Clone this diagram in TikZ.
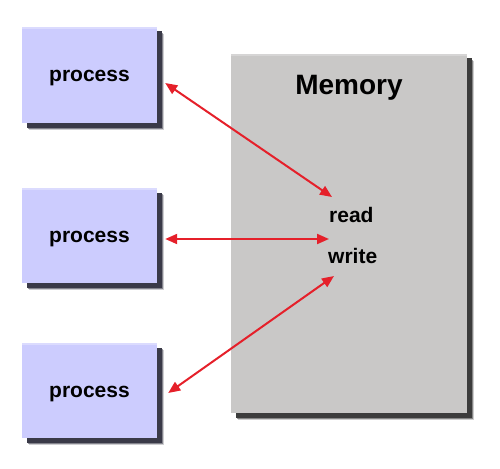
\documentclass[tikz,border=0pt]{standalone}
\usepackage{fontspec}
\setmainfont{Liberation Sans}
\usetikzlibrary{arrows.meta}
\definecolor{procfill}{HTML}{CCCCFE}
\definecolor{procshade}{HTML}{3A3A48}
\definecolor{memfill}{HTML}{C9C8C7}
\definecolor{memshade}{HTML}{3C3C3C}
\definecolor{arrowred}{HTML}{E5202A}
\tikzset{
  procbox/.style={rectangle, fill=procfill, minimum width=135pt, minimum height=95pt,
    inner sep=0pt, text height=14pt, text depth=0pt,
    font=\fontsize{21}{24}\selectfont\bfseries},
  membox/.style={rectangle, fill=memfill, minimum width=236pt, minimum height=359pt, inner sep=0pt},
  oplabel/.style={anchor=base west, inner sep=0pt, font=\fontsize{21}{24}\selectfont\bfseries},
  memtitle/.style={anchor=base, inner sep=0pt, font=\fontsize{28}{32}\selectfont\bfseries},
  link/.style={draw=arrowred, line width=2pt,
    {Triangle[length=12pt,width=10pt]}-{Triangle[length=12pt,width=10pt]}},
}
% soft offset shadow behind a box given by two corners
\newcommand{\softshadow}[3]{%
  \fill[#3, opacity=0.25] ([shift={(7,7)}]#1) rectangle ([shift={(7,7)}]#2);
  \fill[#3, opacity=0.5] ([shift={(6,6)}]#1) rectangle ([shift={(6,6)}]#2);
  \fill[#3] ([shift={(4.5,4.5)}]#1) rectangle ([shift={(4.5,4.5)}]#2);
}
\begin{document}
\begin{tikzpicture}[x=1pt,y=-1pt]
\useasboundingbox (0,0) rectangle (500,468);

% shadows
\softshadow{231,54}{467,413}{memshade}
\softshadow{22,27}{157,123}{procshade}
\softshadow{22,188}{157,283}{procshade}
\softshadow{22,343}{157,438}{procshade}

% memory block
\node[membox] (mem) at (349,233.5) {};
\fill[white, opacity=0.25] (mem.north west) rectangle ([yshift=-2pt]mem.north east);
\node[memtitle] (memlabel) at (349,95) {Memory};
\node[oplabel] (read) at (329,222) {read};
\node[oplabel] (write) at (328,263) {write};

% processes
\node[procbox] (p1) at (89.5,75) {process};
\node[procbox] (p2) at (89.5,235.5) {process};
\node[procbox] (p3) at (89.5,390.5) {process};
\foreach \p in {p1,p2,p3}{
  \fill[white, opacity=0.3] (\p.north west) rectangle ([yshift=-2pt]\p.north east);
}

% connectors
\draw[link] ([shift={(8,8)}]p1.east) -- ([shift={(3,-25)}]read.base west);
\draw[link] ([shift={(8,3.5)}]p2.east) -- ([shift={(0,17)}]read.base west);
\draw[link] ([shift={(11,2.5)}]p3.east) -- ([shift={(6,13)}]write.base west);
\end{tikzpicture}
\end{document}
